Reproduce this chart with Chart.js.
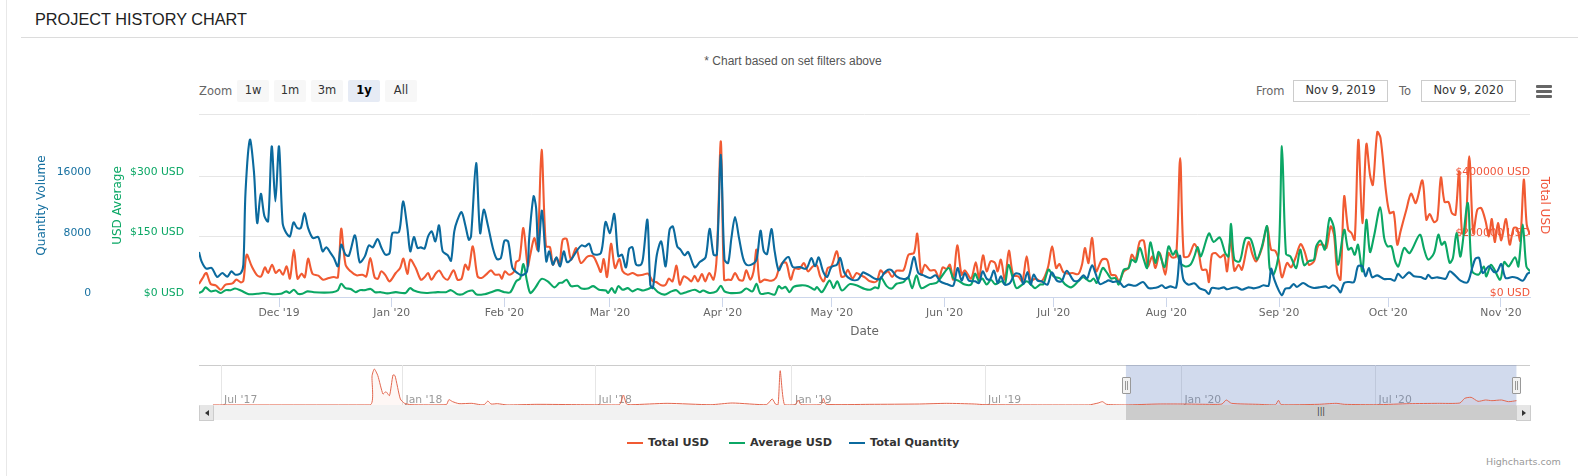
<!DOCTYPE html>
<html>
<head>
<meta charset="utf-8">
<title>Project history chart</title>
<script src="https://cdn.jsdelivr.net/npm/chart.js@4"></script>
<style>
    html, body { margin: 0; padding: 0; background: #fff; overflow: hidden; }
    body { width: 1578px; height: 476px; position: relative; font-family: "DejaVu Sans", sans-serif; }
    .abs { position: absolute; }
    canvas { position: absolute; display: block; }
    #sideLine { left: 6px; top: 0; width: 1px; height: 476px; background: #e8e8e8; }
    #heading { left: 35px; top: 9px; font: 16.3px/20px "Liberation Sans", sans-serif; color: #222; }
    #headLine { left: 21px; top: 37px; width: 1557px; height: 1px; background: #dcdcdc; }
    #note { left: 593px; width: 400px; top: 54px; text-align: center; font: 12px/15px "Liberation Sans", sans-serif; color: #555; }
    .lbl { font-size: 11.5px; line-height: 16px; color: #666; top: 83px; }
    .btn { top: 80px; height: 22px; width: 32px; line-height: 21px; text-align: center; font-size: 11.5px; color: #333; background: #f7f7f7; border-radius: 2px; }
    .btn.on { background: #e6ebf5; font-weight: bold; color: #000; }
    .date { top: 80px; height: 20px; width: 93px; line-height: 19px; text-align: center; font-size: 11.5px; color: #333; border: 1px solid #ccc; }
    #menu div { position: absolute; left: 0; width: 16px; height: 3px; background: #666; border-radius: 1px; }
    #navTop { left: 199px; top: 365px; width: 1331px; height: 1px; background: #ccc; }
    #scrollTrack { left: 199px; top: 405px; width: 1331px; height: 15px; background: #f2f2f2; }
    #scrollThumb { left: 1126px; top: 405px; width: 390px; height: 15px; background: #ccc; text-align: center; font-size: 8px; line-height: 14px; color: #333; }
    .scrollBtn { top: 405px; width: 13px; height: 14px; background: #e6e6e6; border: 1px solid #ccc; border-top-color: #e6e6e6; }
    .arrow { position: absolute; top: 4px; left: 5px; width: 0; height: 0; border-top: 3px solid transparent; border-bottom: 3px solid transparent; }
    .handle { top: 377px; width: 7px; height: 15px; background: #f2f2f2; border: 1px solid #999; border-radius: 1px; }
    .handle div { position: absolute; top: 3px; left: 2px; width: 1px; height: 9px; border-left: 1px solid #999; border-right: 1px solid #999; }
    .legendLine { top: 442px; width: 16px; height: 2px; }
    .legendText { top: 435px; font-size: 11.2px; line-height: 16px; font-weight: bold; color: #333; white-space: nowrap; }
    #credit { left: 1486px; top: 456px; font-size: 9.5px; line-height: 12px; color: #999; white-space: nowrap; }
</style>
</head>
<body>
    <div class="abs" id="sideLine"></div>
    <div class="abs" id="heading">PROJECT HISTORY CHART</div>
    <div class="abs" id="headLine"></div>
    <div class="abs" id="note">* Chart based on set filters above</div>

    <div class="abs lbl" style="left:199px">Zoom</div>
    <div class="abs btn" style="left:237px">1w</div>
    <div class="abs btn" style="left:274px">1m</div>
    <div class="abs btn" style="left:311px">3m</div>
    <div class="abs btn on" style="left:348px">1y</div>
    <div class="abs btn" style="left:385px">All</div>

    <div class="abs lbl" style="left:1256px">From</div>
    <div class="abs date" style="left:1293px">Nov 9, 2019</div>
    <div class="abs lbl" style="left:1399px">To</div>
    <div class="abs date" style="left:1421px">Nov 9, 2020</div>
    <div class="abs" id="menu" style="left:1536px;top:85px">
        <div style="top:0"></div><div style="top:5px"></div><div style="top:10px"></div>
    </div>

    <canvas id="mainChart" width="1578" height="340" style="left:0;top:0"></canvas>

    <div class="abs" id="navTop"></div>
    <canvas id="navChart" width="1331" height="40" style="left:199px;top:365px"></canvas>
    <div class="abs" id="scrollTrack"></div>
    <div class="abs" id="scrollThumb">|||</div>
    <div class="abs scrollBtn" style="left:199px"><div class="arrow" style="border-right:4px solid #333"></div></div>
    <div class="abs scrollBtn" style="left:1516px"><div class="arrow" style="border-left:4px solid #333"></div></div>
    <div class="abs handle" style="left:1122px"><div></div></div>
    <div class="abs handle" style="left:1512px"><div></div></div>

    <div class="abs legendLine" style="left:627px;background:#f15a32"></div>
    <div class="abs legendText" style="left:648px">Total USD</div>
    <div class="abs legendLine" style="left:729px;background:#0ba765"></div>
    <div class="abs legendText" style="left:750px">Average USD</div>
    <div class="abs legendLine" style="left:849px;background:#0b6a9e"></div>
    <div class="abs legendText" style="left:870px">Total Quantity</div>
    <div class="abs" id="credit">Highcharts.com</div>

<script>
// days are counted from Nov 9, 2019
const monthTickDays = [22, 53, 84, 113, 144, 174, 205, 235, 266, 297, 327, 358];
const monthTickLabels = ["Dec '19", "Jan '20", "Feb '20", "Mar '20", "Apr '20", "May '20", "Jun '20", "Jul '20", "Aug '20", "Sep '20", "Oct '20", "Nov '20"];

// the last tick of each list is the unlabelled top line of the plot
const quantityTicks = [0, 8000, 16000, 24280];
const averageTicks = [0, 150, 300, 455];
const totalTicks = [0, 200000, 400000, 607000];

// [day, value]
const totalUsd = [
    [0,43100],[0.9,60800],[2,79600],[3.2,43100],[4.6,38700],[6,24300],[7.3,40900],[9.2,45300],[10.3,57500],[11.5,48600],[12.2,54100],[13.1,140300],[14.5,101700],[16,71800],[17.1,68500],[18.1,98300],[19,79600],[20.1,107200],[21.1,79600],[22.1,90600],[23.1,74000],[24.1,101700],[25,60800],[26.1,156900],[27.1,60800],[28.2,77400],[29.1,65200],[30,127100],[31.2,77400],[32.8,70700],[34.1,57500],[35.7,63000],[37.1,66300],[38.2,65200],[39.1,226500],[40.3,107200],[41.7,85100],[43.3,71800],[44.9,74000],[46,68500],[47.1,129300],[48.3,65200],[49.2,60800],[50.1,85100],[51.3,71800],[52.4,51900],[54.1,79600],[55.3,96100],[56.2,127100],[57.3,76200],[58.1,123800],[59.6,96100],
    [61,57500],[62,65200],[63,79600],[63.9,57500],[65.2,79600],[66.1,87300],[67.3,65200],[68.4,57500],[70,88400],[71.1,57500],[72.2,60800],[73.2,107200],[74.1,90600],[75.3,168000],[76.6,68500],[77.7,63000],[78.9,74000],[80.3,88400],[81.4,74000],[82.6,74000],[83.3,60800],[84.1,85100],[85.3,74000],[86.7,85100],[87.2,116000],[88.1,123800],[89.2,228700],[90.4,101700],[91.1,140300],[92.2,195600],[93.1,156900],[94.2,488400],[95.4,168000],[96.5,165800],[97.3,107200],[98.2,129300],[99.1,107200],[100,190100],[101.1,192300],[102.3,123800],[103.7,162400],[105,112700],[106.9,134800],[108.4,134800],[109.6,107200],[110.5,82900],[111.3,126000],[112.2,66300],[113.3,176800],[114.4,96100],[115.6,126000],[116.5,85100],[117.9,74000],[119.2,79600],[120.6,71800],
    [122.1,74000],[123.5,77400],[124.8,51900],[125.7,49700],[127.1,38700],[128.3,40900],[129.2,60800],[130.2,51900],[131.3,103900],[132.2,40900],[133.3,68500],[134.5,60800],[135.4,51900],[136.3,70700],[137.2,51900],[138.3,76200],[139.2,51900],[140.3,79600],[141.5,57500],[142.4,140300],[143.5,516000],[144.4,57500],[145.5,57500],[146.4,57500],[147.4,79600],[148.5,57500],[149.6,55300],[150.5,88400],[151.6,57500],[152.5,85100],[153.3,156900],[154.2,49700],[155.5,57500],[157.4,54100],[158.6,63000],[159.4,90600],[160.4,112700],[161.5,112700],[162.7,57500],[163.8,93900],[165.2,93900],[166.3,112700],[167.5,85100],[168.8,101700],[169.9,105000],[170.8,68500],[171.8,51900],[172.9,96100],[173.9,101700],[175.4,151400],[176.6,68500],[177.5,68500],[178.4,90600],[179.7,60800],[180.8,79600],[182,71800],
    [183.1,65000],[184.5,51900],[186.3,51900],[187.4,88400],[188.4,77400],[189.5,85100],[190.6,66300],[191.8,87300],[193.7,88400],[195.1,140300],[196.6,145900],[197.5,210000],[198.6,74000],[199.6,107200],[201,88400],[202.4,88400],[203.5,63000],[204.5,98300],[205.6,92800],[206.5,107200],[207.4,57500],[208.5,171300],[209.7,74000],[210.6,88400],[212.3,60800],[213.6,114900],[214.5,63000],[215.6,138100],[216.6,85100],[217.7,118200],[218.9,112700],[219.6,85100],[220.5,123800],[221.6,57500],[222.7,153600],[223.9,71800],[225.3,68500],[226.4,51900],[227.6,134800],[228.7,54100],[230,60800],[231.7,51900],[233.4,96100],[234.6,168000],[235.7,96100],[236.6,109400],[237.7,81800],[239.1,77400],[240.2,79600],[241.8,76200],[242.8,107200],[243.6,162400],
    [244.2,130000],[244.6,112700],[245.6,195600],[246.7,85100],[248.3,123800],[249.7,123800],[250.8,74000],[252,71800],[253,51900],[254.3,85100],[255.6,96100],[256.5,140300],[257.5,123800],[258.7,184500],[259.8,186700],[260.9,101700],[262.1,134800],[263,96100],[264.2,145900],[265.7,74000],[266.6,145900],[267.5,131500],[268.7,134800],[269.8,460800],[270.8,134800],[272.1,134800],[273.7,175700],[274.9,145900],[275.8,90600],[277,90600],[277.7,49700],[278.5,140300],[279.5,145900],[280.8,131500],[281.9,140300],[282.7,85100],[283.7,195600],[284.7,87300],[285.9,107200],[286.8,90600],[288.6,182300],[289.7,140300],[290.7,118200],[292.3,162400],[293.7,234300],[294.8,156900],[295.9,153600],[296.9,123800],[297.8,65200],[299.2,112700],[300.3,98300],[301.5,129300],[302.9,175700],[304,151400],
    [305.2,107200],[306.6,118200],[307.8,171300],[309.1,173500],[310,162400],[311.2,234300],[312.1,206600],[313,79600],[313.9,57500],[314.9,333700],[316,223200],[316.9,212200],[317.8,190100],[318.8,521600],[319.9,245300],[321,507200],[322,405500],[322.8,372400],[324,547000],[324.9,527100],[326.4,350300],[327.4,278500],[328.5,281800],[329.5,173500],[330.4,217700],[332,289500],[333.3,342600],[334.6,311600],[336.4,386800],[337.5,256400],[338.4,275100],[339.6,248600],[340.5,256400],[341.5,396700],[342.5,314900],[343.6,314900],[344.5,278500],[345.5,272900],[346.5,416600],[347.3,212200],[348.2,212200],[349.3,466300],[350.4,212200],[351.5,289500],[352.6,295000],[353.8,250800],[354.7,201100],[355.5,258600],[356.3,182300],[357.2,245300],[358.1,187900],[359.4,258600],[360.4,173500],[361.5,228700],[362.4,228700],[363.3,186700],[364.3,389000],[365.1,239800],[366,206600]
];
const averageUsd = [
    [0,10],[0.9,14],[1.8,24],[3.2,14],[4.6,16],[6,10],[7.3,17],[8.7,17],[9.9,21],[11.5,16],[13.7,7],[16,8],[17.9,10],[20.2,7],[22.5,8],[24,14],[24.9,10],[26.1,18],[27.2,8],[28.4,8],[29.8,14],[31.6,12],[34.4,11],[36.7,12],[38.2,17],[39.1,33],[40.3,22],[41.7,20],[43.1,12],[44.2,17],[45.6,17],[47.2,20],[48.4,12],[50,12],[51.8,9],[54.1,12],[56.8,10],[58,22],[59.1,16],
    [61,11],[62.9,10],[65.6,12],[67.9,12],[69.3,17],[71.1,7],[72.5,7],[73.9,14],[75.2,16],[76.4,6],[78.5,7],[80.3,12],[82.2,17],[84,12],[85.6,12],[87.2,39],[88.3,46],[89.2,82],[90.2,39],[91.1,10],[92.4,22],[94.2,45],[95.9,39],[97.7,24],[99.1,35],[100,36],[101.1,43],[102.3,27],[104.1,28],[105.2,21],[106.9,21],[108.4,27],[110,18],[111.9,16],[112.5,10],[113.5,22],[114.4,10],[115.3,27],[116.5,18],[117.9,22],[119.2,14],[120.6,20],
    [122.1,16],[123.5,20],[124.8,24],[126.2,12],[128,6],[129.9,14],[131.3,17],[132.4,8],[134,12],[136.3,18],[137.7,12],[138.6,16],[140.4,10],[142.3,14],[143.5,28],[144.5,14],[145.9,10],[147.8,10],[149.1,12],[150.5,21],[152.2,14],[153.3,33],[154.4,8],[156.5,10],[158.3,6],[159.4,27],[160.3,21],[161.3,25],[162.4,12],[163.5,25],[165.6,29],[167.5,27],[169.3,18],[169.9,25],[171.3,12],[173.4,41],[174.5,22],[175.5,39],[176.8,16],[178.9,32],[180.8,29],
    [183.1,20],[184.5,18],[185.9,24],[186.8,22],[187.5,49],[189.1,27],[190.5,21],[191.8,33],[193.7,37],[195,49],[196.1,22],[197.3,54],[198.6,22],[201,32],[202.8,35],[204.2,51],[206.2,72],[207.4,47],[209.1,39],[210.6,31],[212.3,31],[213.4,58],[214.5,39],[215.4,46],[216.6,31],[217.8,43],[218.9,32],[220.7,39],[221.6,32],[222.6,80],[223.9,43],[224.8,22],[226.4,31],[227.6,39],[229,29],[229.9,22],[231.3,31],[232.2,32],[233.6,68],[235,51],[236.8,46],[238.1,32],[239.8,24],[241.8,39],[243.1,49],
    [244.2,43],[245.1,39],[246,46],[246.9,35],[248.5,72],[249.7,60],[250.8,46],[252,47],[252.9,31],[254.3,68],[255.6,72],[256.5,93],[257.6,87],[258.7,122],[259.8,93],[260.7,72],[261.6,136],[263,85],[263.9,112],[265.5,74],[266.6,126],[267.8,105],[268.7,115],[269.8,85],[271.2,76],[272.6,80],[273.7,101],[274.6,124],[275.5,101],[277.7,158],[279,137],[280.7,148],[282.2,109],[283.1,101],[283.8,182],[284.7,93],[286.2,89],[287.7,145],[289.1,145],[290,122],[290.9,93],[292.3,126],[293.7,176],[294.4,72],[295.5,56],[296.9,109],[297.8,375],[298.9,107],[300.1,101],[301.7,72],[302.8,118],[303.9,79],
    [305.2,89],[306.6,93],[307.2,126],[308.4,140],[309.6,118],[310.9,196],[312.1,172],[313.2,80],[314.9,167],[316,118],[316.9,122],[317.8,105],[318.7,130],[319.9,64],[321,192],[322,112],[323.1,151],[324.8,223],[325.9,147],[326.8,126],[327.9,126],[328.9,89],[329.8,76],[331.4,122],[332.9,109],[335.7,155],[336.9,118],[338,93],[339.6,109],[340.8,155],[341.7,130],[342.6,137],[343.9,85],[344.8,97],[345.8,159],[346.9,101],[348.9,234],[350.1,64],[351.9,56],[353.3,76],[354,51],[355.2,80],[356,72],[357.8,43],[358.9,87],[360.1,76],[361.9,99],[362.8,76],[364,180],[365,76],[366,64]
];
const totalQuantity = [
    [0,5970],[0.7,4730],[2,3760],[3.5,3850],[5,2650],[6.4,3180],[7.8,2700],[8.9,3400],[10,2960],[11.5,3180],[12.2,4290],[12.8,14010],[14,20860],[15.1,16660],[16,9810],[17,13700],[18,10700],[19,10030],[20,19980],[21,12690],[22,19980],[23,9810],[24,8490],[25,8040],[26,9900],[27,9150],[28,9150],[29,11140],[30,9150],[31.3,7820],[32.8,7960],[34,6060],[35,6590],[36.2,5830],[37.1,5170],[38.2,4070],[39.1,6940],[40.3,5610],[41.2,5480],[42.9,8180],[44.2,4600],[45.6,5390],[46.7,6850],[47.8,6590],[49.1,7690],[50.2,6500],[51.3,5610],[52.4,5830],[53.2,8490],[55,8620],[56.1,12690],[57.3,9150],[58.1,6060],[59.1,7960],[60.1,6500],
    [61,6590],[62,6410],[63,8040],[64,8710],[65,7380],[66,9500],[67,6060],[68.4,5530],[69.3,4820],[70.2,8710],[71.1,10250],[72.2,11270],[73.2,9590],[74.2,7600],[74.8,8040],[76.2,17770],[77.3,8490],[78.3,11580],[79.4,9590],[80.8,6500],[81.9,5040],[83,5170],[84,7470],[85,7380],[86.2,3850],[87.6,3180],[88.8,2870],[90.2,3400],[90.8,7820],[92,13350],[92.7,11800],[93.3,6060],[94.3,11450],[95.5,4730],[96.3,6060],[97.3,4290],[98.3,5260],[99.3,4070],[100.3,6060],[101.2,4640],[102.3,4950],[104.1,6280],[105.2,6850],[106.2,6720],[107.3,7070],[108.4,5700],[110.5,5830],[111.8,9950],[113,8490],[114.2,11010],[115.3,5390],[116.3,5610],[117.4,3930],[118.3,6410],[119.2,6590],[120.2,4290],[121.5,4290],
    [122.1,5170],[123.3,10250],[124.1,1640],[124.8,1190],[125.9,5610],[127.1,7380],[128.3,4070],[129.4,8930],[130.3,9370],[131.5,6720],[132.4,6280],[133.5,5530],[134.5,5970],[136.3,3930],[137.7,4640],[139.3,5260],[140.4,9060],[141.5,5610],[142.4,5610],[143.5,18870],[144.5,4950],[145.5,4510],[146.4,7820],[147.4,10610],[148.5,7820],[149.6,5170],[150.5,4290],[151.9,4290],[153.3,4950],[154.4,8800],[155.3,6060],[156.2,5700],[157.4,9020],[158.3,6060],[159.4,3540],[160.6,4640],[162.1,5300],[163.3,3980],[165.2,3980],[167,3760],[168.4,5170],[169.4,4070],[170.4,5260],[171.6,3400],[172.7,2650],[173.9,3980],[175.4,4290],[176.3,5170],[177.5,3180],[179.4,2300],[181.2,2300],[182.6,3270],
    [183.1,3180],[184.5,2830],[185.9,2430],[187.3,2390],[188.4,3180],[189.5,3620],[190.5,3540],[191.8,2740],[193.7,2390],[195.1,2610],[196.6,5300],[197.8,3180],[199.2,2870],[201,2520],[202.6,2870],[203.8,2080],[205.6,1720],[207.4,1500],[208.6,3850],[209.7,2170],[210.6,3180],[211.7,2170],[213.4,2080],[214.5,1860],[215.5,3400],[216.6,2430],[217.5,2300],[218.6,3490],[219.6,1860],[220.5,2740],[221.6,1640],[223,1860],[224.4,3090],[225.8,2960],[226.7,1720],[227.8,3320],[228.7,1640],[229.5,2960],[230.6,2170],[231.7,2080],[233.3,1640],[234.5,3270],[235.9,2170],[237.2,2080],[238.6,3490],[240.5,2170],[241.8,2170],[243.2,2870],
    [244.2,2430],[244.9,3400],[245.6,4200],[246.5,3180],[247.7,1720],[249.2,1990],[250.1,2210],[251.5,1990],[252.9,2080],[254.3,1330],[255.6,1640],[257.5,1500],[259.6,1990],[261.1,1190],[262.5,1190],[263.6,1280],[264.8,1550],[265.7,1190],[267.1,1410],[268.7,1280],[269.7,5480],[270.7,2300],[272.1,1640],[273.7,1810],[275.3,1110],[276.7,880],[277.7,400],[278.5,1190],[280.4,1110],[281.8,1280],[282.7,1020],[284,1190],[285.4,1280],[286.8,970],[288.6,1280],[290,1150],[291.4,1280],[292.7,1550],[294.1,1500],[294.8,3760],[295.7,2300],[296.9,880],[297.8,220],[298.7,1110],[299.9,1190],[301,1720],[301.9,1330],[303.6,1860],
    [305.2,1410],[306.6,1190],[308,1280],[309.8,1410],[310.7,1190],[311.8,1550],[313,1190],[313.9,620],[314.9,1860],[316.2,1990],[317.6,1990],[318.7,4070],[319.9,4070],[320.8,2740],[321.7,3850],[322.6,2610],[324,2870],[325.8,2390],[327.6,2390],[328.8,2170],[329.7,3090],[331,2520],[332.7,3270],[334.1,2740],[335.9,2650],[337.3,2390],[338,2960],[338.9,2520],[340.5,2610],[342.8,2430],[343.9,3400],[345.4,2870],[346.9,2170],[348.8,1940],[350.1,3850],[351,5080],[352,5170],[353,3180],[354.7,4070],[356.1,3320],[357,3400],[358.1,4380],[359.3,2520],[361.1,2650],[362.5,2520],[364.1,2170],[365.3,3090],[366,3270]
];

// navigator: days counted from Jan 1, 2018
const navTickDays = [-170, 0, 181, 365, 546, 730, 912];
const navTickLabels = ["Jul '17", "Jan '18", "Jul '18", "Jan '19", "Jul '19", "Jan '20", "Jul '20"];
const navTotalUsd = [
    [-177.6,5000],[-30.5,5000],[-28.5,1910000],[-26.4,2344000],[-23.1,1910000],[-18.3,716000],[-15.5,868000],[-12.2,608000],[-8.9,1953000],[-7,1910000],[-2,391000],[2,108000],[8,20000],[41,20000],[43.5,347000],[47,217000],[53,87000],[65,108000],[73,20000],[77,43000],[80,260000],[83,65000],[89,87000],[98,5000],[126,43000],[167,20000],[203,5000],[207,651000],[210,65000],[215,20000],[248,108000],[289,20000],[309,130000],[341,20000],[346.5,391000],[349.5,65000],[352,20000],[354,2235000],[358,20000],[368,20000],[371,325000],[373.5,20000],[392,20000],[394.5,434000],[397,43000],[438,43000],
    [484.5,65000],[510,108000],[536,65000],[546,20000],[600,5000],[643,5000],[652,130000],[656,217000],[660,43000],[678,5000],[708,65000],[731,65000],[755,43000],[768,65000],[772,325000],[777,108000],[802,43000],[818,5000],[821,304000],[823.5,20000],[858,43000],[875,108000],[883,43000],[913,20000],[944,87000],[970,108000],[991,130000],[995.5,434000],[1001.5,499000],[1008,239000],[1015,325000],[1021,282000],[1030,325000],[1036.5,217000],[1044,282000]
];
const navSelection = [678, 1044];

// fixed widths so that the plot area lands where the reference has it
function fixWidth(width) {
    return function (scale) { scale.width = width; };
}
function fixHeight(height) {
    return function (scale) { scale.height = height; };
}
function useTicks(values) {
    return function (scale) {
        scale.ticks = values.map(function (v) { return { value: v }; });
    };
}
function tickFont() {
    return { family: '"DejaVu Sans", sans-serif', size: 10.8 };
}
function titleFont() {
    return { family: '"DejaVu Sans", sans-serif', size: 12 };
}

new Chart(document.getElementById('mainChart').getContext('2d'), {
    type: 'line',
    data: {
        datasets: [
            { label: 'Total USD', data: totalUsd, yAxisID: 'yTotal', borderColor: '#f15a32', order: 3 },
            { label: 'Average USD', data: averageUsd, yAxisID: 'yAverage', borderColor: '#0ba765', order: 2 },
            { label: 'Total Quantity', data: totalQuantity, yAxisID: 'yQuantity', borderColor: '#0b6a9e', order: 1 }
        ]
    },
    options: {
        responsive: false,
        animation: false,
        layout: { padding: { left: 30, right: 23, top: 114, bottom: 0 } },
        elements: {
            line: { borderWidth: 2.1, tension: 0.3, fill: false },
            point: { radius: 0 }
        },
        plugins: { legend: { display: false }, tooltip: { enabled: false } },
        scales: {
            x: {
                type: 'linear',
                min: 0,
                max: 366,
                afterFit: fixHeight(43),
                afterBuildTicks: useTicks(monthTickDays),
                border: { color: '#ccd6eb' },
                grid: { drawOnChartArea: false, color: '#ccd6eb', tickLength: 10 },
                ticks: {
                    autoSkip: false,
                    maxRotation: 0,
                    padding: 0,
                    color: '#666',
                    font: tickFont(),
                    callback: function (value) { return monthTickLabels[monthTickDays.indexOf(value)]; }
                },
                title: { display: true, text: 'Date', color: '#666', font: titleFont(), padding: { top: 0, bottom: 1 } }
            },
            yAverage: {
                position: 'left',
                weight: 1,
                min: 0,
                max: averageTicks[3],
                afterFit: fixWidth(94),
                afterBuildTicks: useTicks(averageTicks),
                border: { display: false },
                grid: { display: false, drawTicks: false },
                ticks: {
                    padding: 15,
                    labelOffset: -4,
                    color: '#0ba765',
                    font: tickFont(),
                    callback: function (value) { return value === averageTicks[3] ? '' : '$' + value + ' USD'; }
                },
                title: { display: true, text: 'USD Average', color: '#0ba765', font: titleFont(), padding: { top: 6, bottom: 0 } }
            },
            yQuantity: {
                position: 'left',
                weight: 2,
                min: 0,
                max: quantityTicks[3],
                afterFit: fixWidth(75),
                afterBuildTicks: useTicks(quantityTicks),
                border: { display: false },
                grid: { color: '#e6e6e6', drawTicks: false },
                ticks: {
                    padding: 14,
                    labelOffset: -4,
                    color: '#1670a0',
                    font: tickFont(),
                    callback: function (value) { return value === quantityTicks[3] ? '' : value; }
                },
                title: { display: true, text: 'Quantity Volume', color: '#1670a0', font: titleFont(), padding: { top: 5, bottom: 0 } }
            },
            yTotal: {
                position: 'right',
                min: 0,
                max: totalTicks[3],
                afterFit: fixWidth(25),
                afterBuildTicks: useTicks(totalTicks),
                border: { display: false },
                grid: { display: false, drawTicks: false },
                ticks: {
                    mirror: true,
                    padding: 0,
                    labelOffset: -4,
                    color: '#f0553a',
                    font: tickFont(),
                    callback: function (value) { return value === totalTicks[3] ? '' : '$' + value + ' USD'; }
                },
                title: { display: true, text: 'Total USD', color: '#f0553a', font: titleFont(), padding: { top: 4, bottom: 0 } }
            }
        }
    }
});

// blue band of the navigator, between the two handles
const selectionBand = {
    id: 'selectionBand',
    beforeDatasetsDraw: function (chart) {
        const x = chart.scales.x;
        const area = chart.chartArea;
        const left = x.getPixelForValue(navSelection[0]);
        const right = x.getPixelForValue(navSelection[1]);
        chart.ctx.save();
        chart.ctx.fillStyle = 'rgba(102,133,194,0.3)';
        chart.ctx.fillRect(left, area.top, right - left, area.bottom - area.top);
        chart.ctx.restore();
    }
};

new Chart(document.getElementById('navChart').getContext('2d'), {
    type: 'line',
    plugins: [selectionBand],
    data: {
        datasets: [
            { label: 'Total USD', data: navTotalUsd, borderColor: '#e2664e', backgroundColor: 'rgba(241,90,50,0.05)', fill: 'origin' }
        ]
    },
    options: {
        responsive: false,
        animation: false,
        layout: { padding: 0 },
        elements: {
            line: { borderWidth: 1, tension: 0.2 },
            point: { radius: 0 }
        },
        plugins: { legend: { display: false }, tooltip: { enabled: false } },
        scales: {
            x: {
                type: 'linear',
                min: -190.7,
                max: 1056.7,
                afterFit: fixHeight(0),
                afterBuildTicks: useTicks(navTickDays),
                border: { display: false },
                grid: { color: '#e6e6e6', drawTicks: false },
                ticks: {
                    autoSkip: false,
                    maxRotation: 0,
                    mirror: true,
                    align: 'start',
                    padding: -2,
                    labelOffset: 3,
                    color: '#999',
                    font: { family: '"DejaVu Sans", sans-serif', size: 10.8 },
                    callback: function (value) { return navTickLabels[navTickDays.indexOf(value)]; }
                }
            },
            y: { display: false, min: 0, max: 2604000 }
        }
    }
});
</script>
</body>
</html>
